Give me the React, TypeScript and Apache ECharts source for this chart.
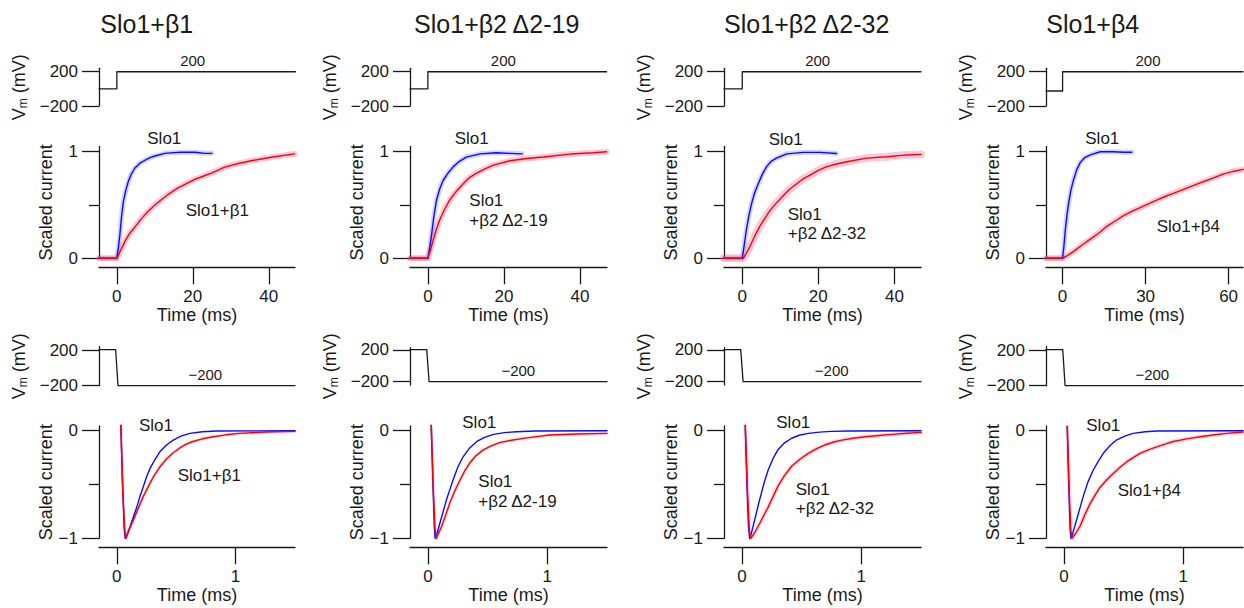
import { useEffect, useRef } from 'react';
import * as echarts from 'echarts';

const FONT = '"Liberation Sans", Arial, Helvetica, sans-serif';
const INK = '#1a1a1a';

// ---------- data ----------
const titles = ['Slo1+β1', 'Slo1+β2 Δ2-19', 'Slo1+β2 Δ2-32', 'Slo1+β4'];
const actXTicks = [[0, 20, 40], [0, 20, 40], [0, 20, 40], [0, 30, 60]];
const tailXTicks = [0, 1];
const vTicks = [-200, 200];
const actYTicks = [0, 1];
const tailYTicks = [-1, 0];

// voltage protocols (time ms, mV)
const vAct1 = [[-4.7, 0], [0, 0], [0, 200], [47, 200]];
const vAct2 = [[-4.7, 0], [0, 0], [0, 200], [47, 200]];
const vAct3 = [[-4.8, 0], [0, 0], [0, 200], [47, 200]];
const vAct4 = [[-6, -25], [0, -25], [0, 200], [65.2, 200]];
const vTail = [[-0.15, 205], [-0.01, 205], [0.01, -200], [1.5, -200]];

// activation currents (time ms, scaled)
const act1Blue = [[-4.7, 0], [0, 0], [0.4, 0.1], [0.8, 0.22], [1.2, 0.38], [1.7, 0.53], [2.3, 0.63], [3.0, 0.72], [3.8, 0.79], [4.7, 0.845], [6, 0.89], [7.4, 0.92], [8.7, 0.945], [10, 0.96], [12.6, 0.985], [15, 0.992], [17, 0.995], [20.5, 0.995], [23.2, 0.985], [25, 0.985]];
const act1Red = [[-4.7, 0], [0, 0], [1.2, 0.09], [2.3, 0.17], [3.5, 0.24], [4.7, 0.29], [6.4, 0.37], [8.2, 0.44], [10, 0.5], [11.7, 0.55], [13.9, 0.61], [16.1, 0.66], [18.3, 0.7], [20.5, 0.74], [22.7, 0.77], [24.9, 0.8], [28.4, 0.855], [32, 0.89], [36, 0.92], [41, 0.95], [46.8, 0.98]];
const act2Blue = [[-4.7, 0], [0, 0], [0.5, 0.1], [1.0, 0.23], [1.6, 0.4], [2.3, 0.55], [3.1, 0.65], [4.0, 0.73], [5.3, 0.8], [6.7, 0.86], [8.3, 0.91], [10.1, 0.95], [13.7, 0.98], [18, 0.99], [21.6, 0.985], [24.8, 0.98]];
const act2Red = [[-4.7, 0], [0, 0], [0.7, 0.08], [1.4, 0.17], [2.2, 0.27], [3.1, 0.36], [4.4, 0.46], [5.8, 0.55], [7.5, 0.63], [9.3, 0.7], [11, 0.76], [12.8, 0.8], [15, 0.84], [17.2, 0.874], [21.6, 0.915], [26, 0.937], [30.3, 0.95], [37.4, 0.978], [43.5, 0.99], [47, 1.0]];
const act3Blue = [[-4.8, 0], [0, 0], [0.5, 0.12], [1.1, 0.27], [1.8, 0.41], [2.5, 0.52], [3.3, 0.62], [4.2, 0.7], [5.3, 0.79], [6.4, 0.86], [7.6, 0.91], [9.0, 0.94], [11.7, 0.98], [16.1, 0.994], [20.4, 0.994], [24.8, 0.984]];
const act3Red = [[-4.8, 0], [0.3, 0], [1.1, 0.05], [2.0, 0.11], [3.3, 0.21], [4.6, 0.3], [6.0, 0.38], [7.3, 0.45], [9.0, 0.52], [10.8, 0.59], [12.5, 0.65], [14.3, 0.7], [16, 0.745], [17.8, 0.78], [20, 0.825], [22.2, 0.86], [24.8, 0.885], [27.5, 0.906], [32.7, 0.94], [38, 0.953], [43.2, 0.97], [47, 0.975]];
const act4Blue = [[-6, 0], [0, 0], [0.5, 0.12], [1.0, 0.27], [1.6, 0.41], [2.2, 0.52], [3.0, 0.64], [4.0, 0.74], [5.1, 0.83], [6.4, 0.9], [8, 0.945], [10, 0.97], [13.6, 1.0], [18.4, 1.0], [22, 0.995], [25, 0.995]];
const act4Red = [[-6, 0], [0, 0], [2, 0.03], [4, 0.065], [7, 0.125], [10, 0.18], [13, 0.235], [16, 0.3], [19, 0.35], [22, 0.4], [25, 0.44], [28, 0.475], [31, 0.51], [34, 0.545], [37, 0.58], [40, 0.61], [43, 0.64], [46, 0.67], [49, 0.7], [52, 0.73], [55, 0.76], [58, 0.79], [61.5, 0.815], [65.2, 0.835]];

// tail currents (time ms, scaled)
const tail1Blue = [[0.034, 0.05], [0.05, -0.55], [0.062, -0.9], [0.07, -1.0], [0.085, -0.97], [0.112, -0.89], [0.14, -0.8], [0.168, -0.71], [0.195, -0.61], [0.223, -0.52], [0.25, -0.43], [0.28, -0.35], [0.32, -0.27], [0.363, -0.195], [0.42, -0.13], [0.475, -0.087], [0.54, -0.05], [0.615, -0.025], [0.72, -0.01], [0.84, -0.003], [1.5, 0]];
const tail1Red = [[0.034, 0.05], [0.05, -0.55], [0.066, -0.92], [0.078, -1.0], [0.1, -0.93], [0.14, -0.83], [0.18, -0.72], [0.223, -0.61], [0.265, -0.52], [0.307, -0.43], [0.36, -0.34], [0.42, -0.26], [0.475, -0.205], [0.53, -0.16], [0.585, -0.125], [0.64, -0.1], [0.72, -0.075], [0.81, -0.056], [0.92, -0.038], [1.03, -0.025], [1.26, -0.012], [1.5, -0.006]];
const tail2Blue = [[0.028, 0.05], [0.044, -0.55], [0.054, -0.9], [0.06, -1.0], [0.075, -0.96], [0.1, -0.86], [0.128, -0.75], [0.156, -0.64], [0.183, -0.55], [0.21, -0.46], [0.25, -0.34], [0.296, -0.24], [0.35, -0.16], [0.41, -0.1], [0.48, -0.06], [0.55, -0.034], [0.64, -0.018], [0.74, -0.009], [0.9, -0.003], [1.5, 0]];
const tail2Red = [[0.028, 0.05], [0.045, -0.55], [0.06, -0.92], [0.07, -1.0], [0.09, -0.95], [0.115, -0.89], [0.15, -0.78], [0.184, -0.67], [0.225, -0.56], [0.268, -0.46], [0.31, -0.37], [0.35, -0.3], [0.4, -0.235], [0.46, -0.18], [0.53, -0.14], [0.6, -0.11], [0.7, -0.088], [0.8, -0.071], [0.91, -0.055], [1.02, -0.04], [1.25, -0.03], [1.5, -0.025]];
const tail3Blue = [[0.028, 0.05], [0.044, -0.55], [0.056, -0.9], [0.065, -1.0], [0.08, -0.95], [0.107, -0.83], [0.135, -0.7], [0.163, -0.58], [0.19, -0.47], [0.22, -0.365], [0.26, -0.26], [0.3, -0.18], [0.355, -0.115], [0.416, -0.07], [0.48, -0.042], [0.556, -0.025], [0.65, -0.013], [0.75, -0.006], [0.9, -0.002], [1.5, 0]];
const tail3Red = [[0.028, 0.05], [0.046, -0.55], [0.062, -0.92], [0.073, -1.0], [0.1, -0.96], [0.135, -0.89], [0.178, -0.8], [0.22, -0.71], [0.26, -0.615], [0.3, -0.52], [0.355, -0.42], [0.416, -0.33], [0.485, -0.265], [0.556, -0.21], [0.63, -0.165], [0.7, -0.13], [0.77, -0.105], [0.837, -0.087], [0.93, -0.07], [1.03, -0.056], [1.15, -0.044], [1.26, -0.034], [1.38, -0.024], [1.5, -0.015]];
const tail4Blue = [[0.028, 0.04], [0.042, -0.55], [0.052, -0.9], [0.059, -1.0], [0.075, -0.95], [0.106, -0.83], [0.134, -0.72], [0.162, -0.61], [0.2, -0.48], [0.246, -0.365], [0.29, -0.28], [0.33, -0.21], [0.385, -0.14], [0.44, -0.087], [0.51, -0.05], [0.58, -0.025], [0.68, -0.01], [0.78, -0.003], [1.5, 0]];
const tail4Red = [[0.028, 0.04], [0.044, -0.55], [0.057, -0.92], [0.067, -1.0], [0.095, -0.96], [0.134, -0.89], [0.176, -0.78], [0.218, -0.68], [0.26, -0.6], [0.3, -0.53], [0.355, -0.46], [0.41, -0.4], [0.47, -0.34], [0.525, -0.29], [0.58, -0.25], [0.637, -0.21], [0.707, -0.178], [0.777, -0.15], [0.846, -0.124], [0.916, -0.1], [1.03, -0.076], [1.14, -0.056], [1.25, -0.04], [1.36, -0.025], [1.5, -0.012]];

const vActs = [vAct1, vAct2, vAct3, vAct4];
const actBlues = [act1Blue, act2Blue, act3Blue, act4Blue];
const actReds = [act1Red, act2Red, act3Red, act4Red];
const tailBlues = [tail1Blue, tail2Blue, tail3Blue, tail4Blue];
const tailReds = [tail1Red, tail2Red, tail3Red, tail4Red];

// ---------- layout ----------
const colLeft = [99, 410, 724, 1046];
const colWidth = [196, 197, 197, 197];
const actXRange = [[-4.7, 46.9], [-4.7, 47.1], [-4.8, 47.0], [-6, 65.2]];
const tailXRange = [-0.15, 1.5];
const tailVRange = [[-200, 237], [-242, 229], [-242, 229], [-200, 237]];

const minus = (v: number) => String(v).replace('-', '\u2212');

function gridRect(col: number, row: number) {
  const rows = [
    { top: 68.3, height: 37.7 },
    { top: 146.4, height: 111.9 },
    col === 1 || col === 2 ? { top: 347.7, height: 37.3 } : { top: 346.7, height: 39 },
    { top: 426, height: 112.3 },
  ];
  return { left: colLeft[col], width: colWidth[col], ...rows[row] };
}

const axisLineStyle = { color: INK, width: 1.3 };
const nameStyle = { fontSize: 18, fontFamily: FONT, color: INK };
const labelStyle = { fontSize: 17, fontFamily: FONT, color: INK };

function buildOption() {
  const grid: any[] = [];
  const xAxis: any[] = [];
  const yAxis: any[] = [];
  const series: any[] = [];
  const minorY: any[] = [];

  for (let c = 0; c < 4; c++) {
    for (let r = 0; r < 4; r++) {
      const g = c * 4 + r;
      grid.push(gridRect(c, r));
      const isAct = r < 2;
      const [xmin, xmax] = isAct ? actXRange[c] : tailXRange;
      const showX = r === 1 || r === 3;
      const xt = isAct ? actXTicks[c] : tailXTicks;
      xAxis.push({
        gridIndex: g,
        type: 'value',
        min: xmin,
        max: xmax,
        show: showX,
        position: 'bottom',
        offset: 9,
        axisLine: { show: true, onZero: false, lineStyle: axisLineStyle },
        axisTick: { show: true, length: 17, customValues: xt, lineStyle: axisLineStyle },
        axisLabel: { show: true, customValues: xt, margin: 21, ...labelStyle, formatter: (v: number) => minus(v) },
        splitLine: { show: false },
        name: showX ? 'Time (ms)' : '',
        nameLocation: 'middle',
        nameGap: 38,
        nameTextStyle: nameStyle,
      });

      let ymin: number, ymax: number, yt: number[], yname: string, gap: number;
      if (r === 0) { ymin = -200; ymax = 240; yt = vTicks; yname = '{a|V}{b|m}{a| (mV)}'; gap = 70; }
      else if (r === 1) { ymin = 0; ymax = 1.05; yt = actYTicks; yname = 'Scaled current'; gap = 44; }
      else if (r === 2) { ymin = tailVRange[c][0]; ymax = tailVRange[c][1]; yt = vTicks; yname = '{a|V}{b|m}{a| (mV)}'; gap = 70; }
      else { ymin = -1; ymax = 0.044; yt = tailYTicks; yname = 'Scaled current'; gap = 44; }

      yAxis.push({
        gridIndex: g,
        type: 'value',
        min: ymin,
        max: ymax,
        position: 'left',
        axisLine: { show: true, onZero: false, lineStyle: axisLineStyle },
        axisTick: { show: true, length: 17, customValues: yt, lineStyle: axisLineStyle },
        axisLabel: { show: true, customValues: yt, margin: 21, ...labelStyle, formatter: (v: number) => minus(v) },
        splitLine: { show: false },
        name: yname,
        nameLocation: 'middle',
        nameGap: gap,
        nameRotate: 90,
        nameTextStyle: {
          ...nameStyle,
          rich: {
            a: { fontSize: 18, fontFamily: FONT, color: INK, lineHeight: 21 },
            b: { fontSize: 12, fontFamily: FONT, color: INK, lineHeight: 11, verticalAlign: 'bottom' },
          },
        },
      });
      if (r === 1 || r === 3) {
        minorY.push({
          gridIndex: g,
          type: 'value',
          min: ymin,
          max: ymax,
          position: 'left',
          axisLine: { show: false, onZero: false },
          axisTick: { show: true, length: 10, customValues: [r === 1 ? 0.5 : -0.5], lineStyle: axisLineStyle },
          axisLabel: { show: false },
          splitLine: { show: false },
        });
      }

      const line = (data: number[][], color: string, width: number, z: number) => ({
        type: 'line',
        xAxisIndex: g,
        yAxisIndex: g,
        data,
        symbol: 'none',
        showSymbol: false,
        clip: false,
        silent: true,
        smooth: false,
        lineStyle: { color, width, cap: 'round', join: 'round' },
        z,
      });

      if (r === 0) series.push(line(vActs[c], INK, 1.3, 3));
      if (r === 2) series.push(line(vTail, INK, 1.3, 3));
      if (r === 1) {
        series.push(line(actBlues[c], 'rgba(110,110,255,0.3)', 5, 2));
        series.push(line(actReds[c], 'rgba(235,90,150,0.32)', c === 2 ? 8 : 6, 2));
        series.push(line(actBlues[c], '#0a0aff', 1.4, 3));
        series.push(line(actReds[c], '#ff0000', 1.4, 4));
      }
      if (r === 3) {
        series.push(line(tailReds[c], 'rgba(235,90,150,0.25)', c >= 2 ? 4 : 3, 2));
        series.push(line(tailBlues[c], '#0a0aff', 1.4, 3));
        series.push(line(tailReds[c], '#ff0000', 1.4, 4));
      }
    }
  }

  const txt = (text: string, x: number, y: number, size: number, align = 'center') => ({
    type: 'text',
    x,
    y,
    silent: true,
    style: { text, fontSize: size, fontFamily: FONT, fill: INK, align, verticalAlign: 'middle' },
  });

  const graphic: any[] = [
    txt(titles[0], 146.7, 24, 25),
    txt(titles[1], 496.7, 24, 25),
    txt(titles[2], 806.7, 24, 25),
    txt(titles[3], 1092.7, 24, 25),
    txt('200', 192.7, 60, 15),
    txt('200', 503.3, 60, 15),
    txt('200', 817.7, 60, 15),
    txt('200', 1148, 60, 15),
    txt('\u2212200', 205.3, 374, 15),
    txt('\u2212200', 518.3, 370, 15),
    txt('\u2212200', 831.7, 370, 15),
    txt('\u2212200', 1152.3, 374, 15),
    // activation labels
    txt('Slo1', 164.3, 138.3, 17),
    txt('Slo1+β1', 217.3, 210, 17),
    txt('Slo1', 471.7, 138.3, 17),
    txt('Slo1', 469.3, 200, 17, 'left'),
    txt('+β2 Δ2-19', 469.3, 220, 17, 'left'),
    txt('Slo1', 785.7, 139, 17),
    txt('Slo1', 787.7, 214, 17, 'left'),
    txt('+β2 Δ2-32', 787.7, 233.3, 17, 'left'),
    txt('Slo1', 1102.3, 138, 17),
    txt('Slo1+β4', 1188.3, 226.7, 17),
    // tail labels
    txt('Slo1', 156, 425, 17),
    txt('Slo1+β1', 209.3, 475, 17),
    txt('Slo1', 479.3, 422.7, 17),
    txt('Slo1', 478.3, 481.7, 17, 'left'),
    txt('+β2 Δ2-19', 478.3, 501, 17, 'left'),
    txt('Slo1', 793.3, 422.7, 17),
    txt('Slo1', 795.7, 489.3, 17, 'left'),
    txt('+β2 Δ2-32', 795.7, 508.3, 17, 'left'),
    txt('Slo1', 1103.3, 425, 17),
    txt('Slo1+β4', 1149.3, 490, 17),
  ];

  return {
    animation: false,
    backgroundColor: '#ffffff',
    textStyle: { fontFamily: FONT },
    grid,
    xAxis,
    yAxis: [...yAxis, ...minorY],
    series,
    graphic,
  };
}

export default function App() {
  const ref = useRef<HTMLDivElement>(null);
  useEffect(() => {
    if (!ref.current) return;
    const chart = echarts.init(ref.current, undefined, { renderer: 'svg' });
    chart.setOption(buildOption() as any);
    return () => chart.dispose();
  }, []);
  return (
    <div
      ref={ref}
      style={{ position: 'fixed', left: 0, top: 0, width: 1244, height: 608, background: '#fff' }}
    />
  );
}
